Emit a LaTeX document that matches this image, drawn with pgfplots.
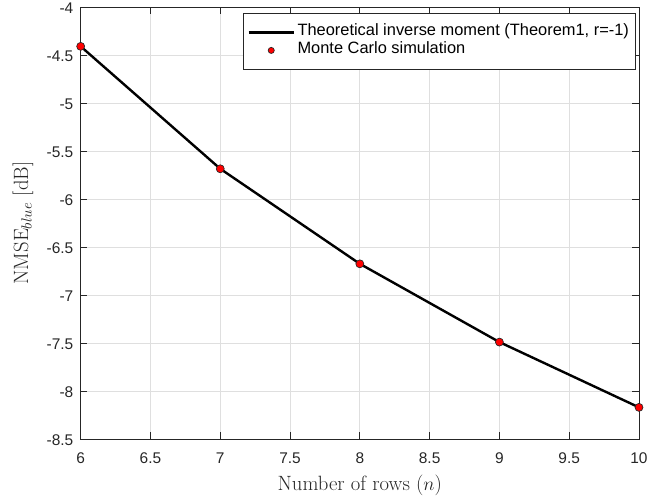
\documentclass[border=0pt]{standalone}
\usepackage{pgfplots}
\pgfplotsset{compat=1.18}
\usepackage{fontspec}
\setsansfont{Liberation Sans}
\definecolor{axgray}{RGB}{38,38,38}
\definecolor{gridgray}{RGB}{223,223,223}
\pgfplotsset{
    linelegend/.style={legend image code/.code={\draw[##1] (0pt,0pt) -- (33.75pt,0pt);}},
    marklegend/.style={legend image code/.code={\draw[##1, mark size=2.3pt] plot coordinates {(16.9pt,0pt)};}},
}
\begin{document}
\begin{tikzpicture}
\begin{axis}[
    name=ax,
    at={(0,0)}, anchor=south west,
    scale only axis,
    width=418.7pt,
    height=324pt,
    xmin=6, xmax=10,
    ymin=-8.5, ymax=-4,
    xtick={6,6.5,...,10},
    ytick={-8.5,-8,...,-4},
    /pgf/number format/assume math mode=true,
    tick label style={font=\sffamily\fontsize{11.6}{13}\selectfont, text=axgray},
    yticklabel style={/pgf/number format/fixed, xshift=-2pt, yshift=-0.8pt},
    xticklabel style={yshift=-7pt},
    label style={font=\fontsize{15.5}{17}\selectfont, text=axgray},
    xlabel={Number of rows ($n$)},
    ylabel={NMSE$_{blue}$ [dB]},
    xlabel style={at={(axis description cs:0.5,0)}, anchor=base, yshift=-38.3pt},
    ylabel style={at={(axis description cs:0,0.5)}, anchor=base, rotate=0, yshift=39.5pt},
    grid=major,
    grid style={draw=gridgray, line width=0.5pt},
    tick align=inside,
    major tick length=5pt,
    tick style={axgray, line width=0.6pt},
    axis line style={axgray, line width=0.6pt},
    legend style={
        at={(rel axis cs:1,1)}, xshift=-2.25pt, yshift=-4.5pt, anchor=north east,
        font=\sffamily\fontsize{12.3}{13}\selectfont,
        draw=axgray, line width=0.6pt,
        inner xsep=3pt, inner ysep=8.3pt,
        row sep=1.6pt,
        nodes={inner xsep=2pt, inner ysep=0pt, text height=8.2pt, text depth=3.7pt},
    },
    legend cell align=left,
]
\addplot[black, line width=1.8pt, mark=none, linelegend] coordinates {
    (6,-4.41) (7,-5.685) (8,-6.675) (9,-7.49) (10,-8.17)
};
\addlegendentry{Theoretical inverse moment (Theorem1, r=-1)}
\addplot[only marks, mark=*, mark size=3pt, mark options={fill=red, draw=axgray, line width=0.5pt}, marklegend] coordinates {
    (6,-4.41) (7,-5.685) (8,-6.675) (9,-7.49) (10,-8.17)
};
\addlegendentry{Monte Carlo simulation}
\end{axis}
\pgfresetboundingbox
\path[use as bounding box] (-60.5pt,-43.5pt) rectangle (427.7pt,329.25pt);
\end{tikzpicture}
\end{document}
